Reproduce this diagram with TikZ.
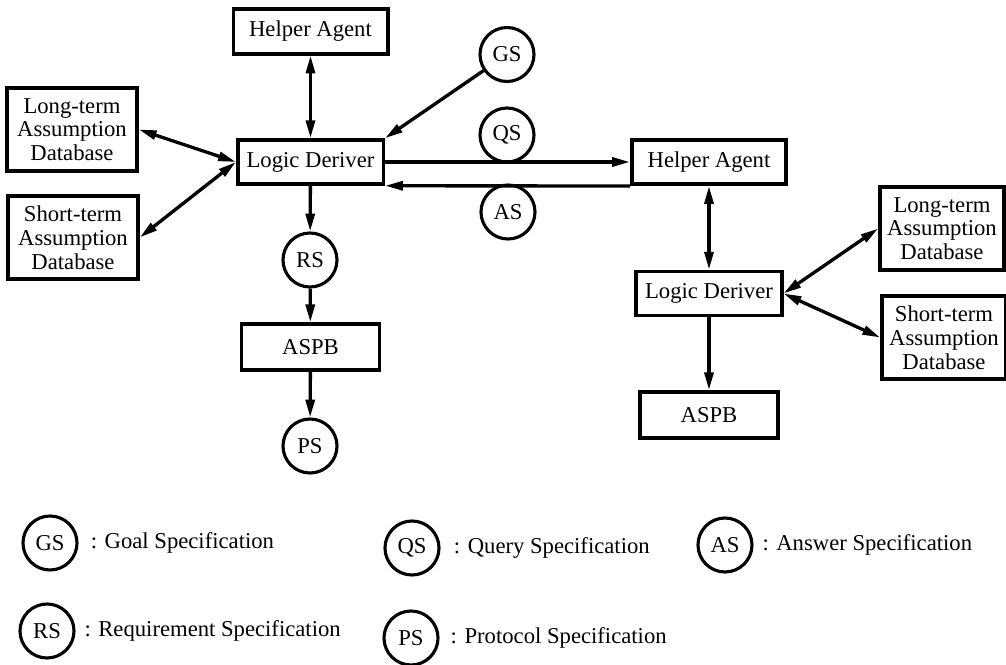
\documentclass[tikz,border=0pt]{standalone}
\usepackage{fontspec}
\setmainfont{Liberation Serif}
\usetikzlibrary{arrows.meta, positioning}

\begin{document}
\begin{tikzpicture}[x=0.45pt, y=-0.45pt,
        caja/.style={draw, line width=1.6pt, align=center, inner sep=0pt,
            font=\fontsize{10.2}{10.7}\selectfont},
        agente/.style={caja, minimum width=69.5pt, minimum height=20pt},
        deriv/.style={caja, minimum width=65.5pt, minimum height=19.8pt},
        base/.style={caja, minimum width=58.5pt, minimum height=37.4pt},
        aspb/.style={caja, minimum width=62pt, minimum height=20.7pt},
        espec/.style={draw, circle, line width=1.4pt, minimum size=24.3pt, inner sep=0pt,
            font=\fontsize{10.2}{12}\selectfont},
        flecha/.style={line width=1.5pt, >={Triangle[length=8pt,width=4pt]}},
        leyenda/.style={font=\fontsize{10.2}{12}\selectfont}]
        % Marco fijo de la figura
        \useasboundingbox (0,0) rectangle (1006,665);

        % Agente principal (izquierda)
        \node[agente] (helperT) at (310.5,31.5) {Helper Agent};
        \node[deriv] (deriverL) at (310.5,162) {Logic Deriver};
        \node[base] (longL) at (72,129.5) {Long-term\\Assumption\\Database};
        \node[base] (shortL) at (73,237.5) {Short-term\\Assumption\\Database};
        \node[espec] (rs) at (310,260) {RS};
        \node[aspb] (aspbL) at (310.5,347) {ASPB};
        \node[espec] (ps) at (310,446) {PS};
        \node[espec] (gs) at (507,54.5) {GS};

        % Mensajes entre agentes
        \node[espec] (qs) at (507,135) {QS};
        \node[espec] (as) at (508,212) {AS};

        % Agente ayudante (derecha)
        \node[agente] (helperR) at (709,162) {Helper Agent};
        \node[deriv] (deriverR) at (709,293.5) {Logic Deriver};
        \node[base, minimum width=55.8pt] (longR) at (942,228.5) {Long-term\\Assumption\\Database};
        \node[base, minimum width=55.8pt] (shortR) at (944,337.5) {Short-term\\Assumption\\Database};
        \node[aspb] (aspbR) at (709,415) {ASPB};

        % Conexiones del lado izquierdo
        \draw[flecha, <->] (helperT) -- (deriverL);
        \draw[flecha, <->] (longL.east) -- (deriverL.west);
        \draw[flecha, <->] (shortL.east) -- (deriverL.west);
        \draw[flecha, ->] (gs) -- (deriverL.north east);
        \draw[flecha, ->] (deriverL) -- (rs);
        \draw[flecha, ->] (rs) -- (aspbL);
        \draw[flecha, ->] (aspbL) -- (ps);

        % Consulta y respuesta
        \draw[flecha, ->] (deriverL.east) -- (helperR.west);
        \draw[flecha, ->] (helperR.south west) -- (deriverL.south east);

        % Conexiones del lado derecho
        \draw[flecha, <->] (helperR) -- (deriverR);
        \draw[flecha, <->] (deriverR.east) -- (longR.west);
        \draw[flecha, <->] (deriverR.east) -- (shortR.west);
        \draw[flecha, ->] (deriverR) -- (aspbR);

        % Leyenda
        \node[espec] (legGS) at (50,543) {GS};
        \node[leyenda, right=2pt of legGS] (txtGS) {: Goal Specification};
        \node[espec] (legQS) at (412,548) {QS};
        \node[leyenda, right=2.5pt of legQS] (txtQS) {: Query Specification};
        \node[espec] (legAS) at (725,545) {AS};
        \node[leyenda, right=0.5pt of legAS] (txtAS) {: Answer Specification};
        \node[espec] (legRS) at (47,631) {RS};
        \node[leyenda, right=0.5pt of legRS] (txtRS) {: Requirement Specification};
        \node[espec] (legPS) at (411,638) {PS};
        \node[leyenda, right=1.5pt of legPS] (txtPS) {: Protocol Specification};
\end{tikzpicture}
\end{document}
